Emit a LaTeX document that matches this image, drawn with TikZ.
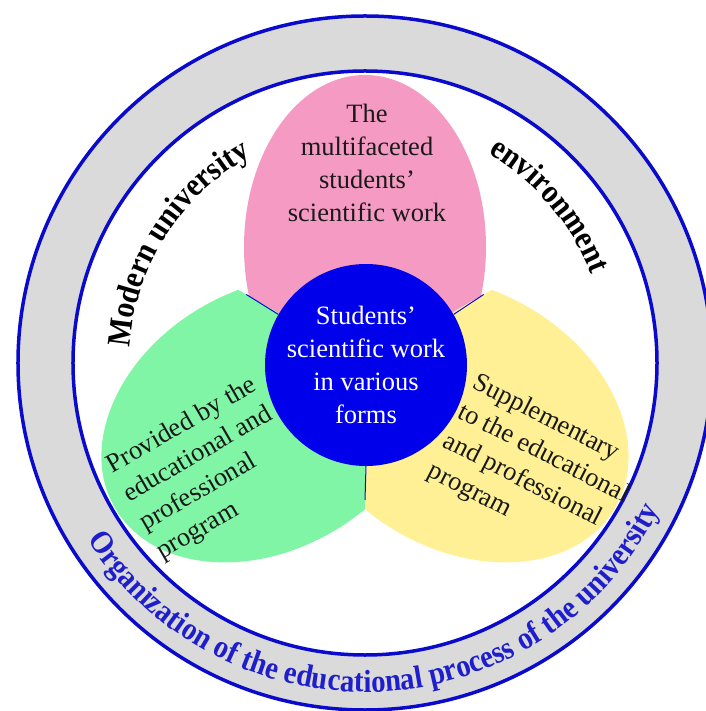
\documentclass[tikz,border=0pt]{standalone}
\usepackage{fontspec}
\setmainfont{Liberation Serif}
\newfontfamily\bandfamily{Liberation Serif}[FakeStretch=0.9]
\usetikzlibrary{positioning,decorations.text}
\definecolor{ringblue}{RGB}{10,10,205}
\definecolor{ringgray}{RGB}{218,218,218}
\definecolor{coreblue}{RGB}{0,0,235}
\definecolor{petalpink}{RGB}{245,155,195}
\definecolor{petalgreen}{RGB}{128,245,165}
\definecolor{petalyellow}{RGB}{255,240,150}
\definecolor{bandblue}{RGB}{30,30,205}
\newcommand{\bandfont}{\bandfamily\bfseries\fontsize{33}{38}\selectfont}
\newcommand{\rimfont}{\bandfamily\bfseries\fontsize{32}{38}\selectfont}
\tikzset{x=1pt, y=1pt, font=\fontsize{26.5}{33}\selectfont}
\tikzset{
	ringline/.style={draw=ringblue, line width=3.5pt},
	sepline/.style={draw=ringblue, line width=1pt},
	petaltext/.style={text=black!90, align=left},
	arctext/.style={decorate, decoration={text along path, text align=center, text={|\bandfont|#1}}},
	rimtext/.style={decorate, decoration={text along path, text align=center, text color=bandblue, text={|\rimfont|#1}}}
}

\begin{document}
\begin{tikzpicture}
	\useasboundingbox (-365,-348) rectangle (340,363);
	\fill[ringgray, even odd rule] (0,0) circle (347) (0,0) circle (292);
	\draw[ringline] (0,0) circle (347);
	\draw[ringline] (0,0) circle (292);

	\begin{scope}
		\clip (0,0) -- (30:320) -- (90:370) -- (150:320) -- cycle;
		\fill[petalpink] (0,116) ellipse[x radius=121, y radius=172];
	\end{scope}
	\begin{scope}[rotate=120]
		\clip (0,0) -- (30:320) -- (90:370) -- (150:320) -- cycle;
		\fill[petalgreen] (0,113) ellipse[x radius=130, y radius=176];
	\end{scope}
	\begin{scope}[rotate=-120]
		\clip (0,0) -- (30:320) -- (90:370) -- (150:320) -- cycle;
		\fill[petalyellow] (0,113) ellipse[x radius=130, y radius=176];
	\end{scope}

	\coordinate (pg) at (150:137);
	\coordinate (py) at (30:137);
	\coordinate (gy) at (270:137);

	\tikzstyle{every node}=[inner sep=0pt]
	\node[circle, fill=coreblue, minimum size=202, text=white, align=center] (core) at (1,-2) {Students'\\scientific work\\in various\\forms};
	\draw[sepline] (core.150) -- (pg);
	\draw[sepline] (core.30) -- (py);
	\draw[sepline] (core.270) -- (gy);

	\node[petaltext, align=center] (multi) at (2,200) {The\\multifaceted\\students'\\scientific work};
	\node[petaltext, rotate=30] (provided) at (-158,-106) {Provided by the\\educational and\\professional\\program};
	\node[petaltext, rotate=-27] (supplement) at (171,-106) {Supplementary\\to the educational\\and professional\\program};

	\path[arctext=Modern university] (200:236) arc[start angle=200, end angle=95, radius=236];
	\path[arctext=environment] (95:243) arc[start angle=95, end angle=-14, radius=243];
	\path[rimtext=Organization of the educational process of the university] (198:329) arc[start angle=198, end angle=348, radius=329];
\end{tikzpicture}
\end{document}
